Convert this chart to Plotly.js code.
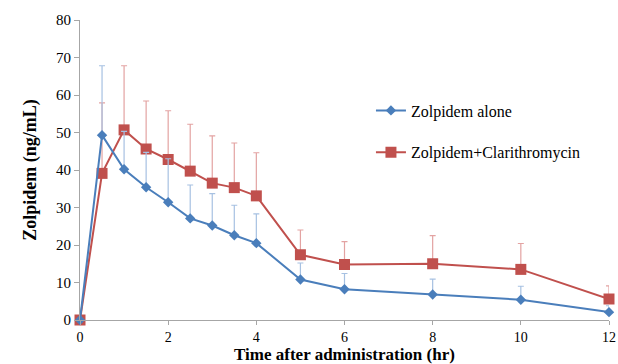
<!DOCTYPE html>
<html>
<head>
<meta charset="utf-8">
<script src="https://cdn.plot.ly/plotly-3.0.1.min.js"></script>
<style>html,body{margin:0;padding:0;background:#fff}#chart{width:618px;height:364px}</style>
</head>
<body>
<div id="chart"></div>
<script>
const timeHr = [0, 0.5, 1, 1.5, 2, 2.5, 3, 3.5, 4, 5, 6, 8, 10, 12];
const aloneMean = [0, 49.3, 40.2, 35.4, 31.4, 27.1, 25.2, 22.6, 20.5, 10.8, 8.2, 6.8, 5.4, 2.1];
const aloneSD   = [0, 18.5, 10.1, 9.3, 11.6, 8.9, 8.5, 8.0, 7.8, 4.4, 4.2, 4.1, 3.6, 1.7];
const clariMean = [0, 39.1, 50.7, 45.6, 42.8, 39.7, 36.5, 35.3, 33.1, 17.4, 14.8, 15.0, 13.5, 5.6];
const clariSD   = [0, 18.8, 17.1, 12.8, 13.0, 12.5, 12.6, 11.9, 11.5, 6.6, 6.1, 7.5, 6.9, 3.5];
const zeros = timeHr.map(() => 0);
const xTicks = [0, 2, 4, 6, 8, 10, 12];
const yTicks = [0, 10, 20, 30, 40, 50, 60, 70, 80];

const font = "Liberation Serif, Times New Roman, serif";
const traces = [
  {
    x: timeHr, y: clariMean, name: "Zolpidem+Clarithromycin", type: "scatter", mode: "lines+markers",
    line: {color: "#c0504d", width: 2}, marker: {symbol: "square", size: 11, color: "#c0504d"},
    error_y: {type: "data", symmetric: false, array: clariSD, arrayminus: zeros, color: "#e3a3a2", thickness: 1.2, width: 3},
    legendgroup: "b", legendrank: 2, cliponaxis: false
  },
  {
    x: timeHr, y: aloneMean, name: "Zolpidem alone", type: "scatter", mode: "lines+markers",
    line: {color: "#4a7ebb", width: 2}, marker: {symbol: "diamond", size: 8, color: "#4a7ebb"},
    error_y: {type: "data", symmetric: false, array: aloneSD, arrayminus: zeros, color: "#a7c1e2", thickness: 1.2, width: 3},
    legendgroup: "a", legendrank: 1, cliponaxis: false
  }
];
const layout = {
  width: 618, height: 364,
  margin: {l: 80, r: 9, t: 20, b: 44},
  paper_bgcolor: "#ffffff", plot_bgcolor: "#ffffff",
  font: {family: font, size: 15, color: "#000"},
  showlegend: true,
  legend: {x: 0.55, y: 0.755, xanchor: "left", yanchor: "top", bgcolor: "rgba(0,0,0,0)",
           font: {family: font, size: 16, color: "#000"}, tracegroupgap: 18, traceorder: "grouped"},
  xaxis: {
    range: [0, 12], tickvals: xTicks, ticktext: xTicks.map(String),
    showgrid: false, zeroline: false, showline: true, linecolor: "#a6a6a6", linewidth: 1,
    ticks: "outside", ticklen: 4, tickcolor: "#a6a6a6",
    tickfont: {family: font, size: 14}, automargin: false,
    title: {text: "<b>Time after administration (hr)</b>", font: {family: font, size: 17}, standoff: 3}
  },
  yaxis: {
    range: [0, 80], tickvals: yTicks, ticktext: yTicks.map(String),
    showgrid: false, zeroline: false, showline: true, linecolor: "#a6a6a6", linewidth: 1,
    ticks: "outside", ticklen: 5, tickcolor: "#a6a6a6",
    tickfont: {family: font, size: 15},
    title: {text: "<b>Zolpidem (ng/mL)</b>", font: {family: font, size: 18}, standoff: 14}
  }
};
Plotly.newPlot("chart", traces, layout, {displayModeBar: false, staticPlot: true});
</script>
</body>
</html>
